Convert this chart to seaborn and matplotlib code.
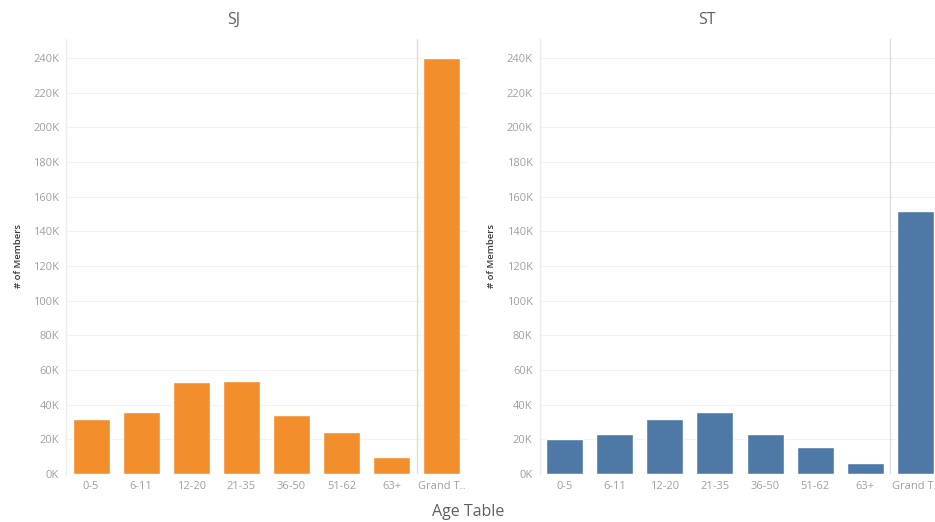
import matplotlib
matplotlib.use("Agg")
import matplotlib.pyplot as plt
import seaborn as sns
import pandas as pd
from matplotlib.ticker import FuncFormatter, MultipleLocator

sns.set_theme(style="white")
plt.rcParams['font.family'] = ['Open Sans', 'DejaVu Sans']

categories = ["0-5", "6-11", "12-20", "21-35", "36-50", "51-62", "63+", "Grand T.."]
sj_values = [31500, 35800, 53100, 53700, 33900, 24200, 10000, 239900]
st_values = [20000, 22900, 31500, 35800, 22900, 15800, 6200, 151900]
panels = ["SJ", "ST"]
colors = ["#F28E2B", "#4E79A7"]

fig = plt.figure(figsize=(9.35, 5.22), dpi=100)
W, H = 935, 522
positions = [(66, 467), (539.5, 940.5)]
y_base, y_top = 474, 39

for name, vals, col, (x0, x1) in zip(panels, [sj_values, st_values], colors, positions):
    ax = fig.add_axes([x0 / W, (H - y_base) / H, (x1 - x0) / W, (y_base - y_top) / H])
    df = pd.DataFrame({"Age": categories, "Members": vals})
    sns.barplot(data=df, x="Age", y="Members", color=col, saturation=1,
                width=0.74, ax=ax, zorder=3)
    ax.set_xlim(-0.5, len(categories) - 0.5)
    ax.set_ylim(0, 251000)
    ax.yaxis.set_major_locator(MultipleLocator(20000))
    ax.yaxis.set_major_formatter(FuncFormatter(lambda v, p: f"{int(round(v / 1000))}K"))
    ax.grid(axis="y", color="#f2f2f2", linewidth=0.8, zorder=0)
    ax.axvline(len(categories) - 1.5, color="#dcdcdc", linewidth=1.0, zorder=2)
    for s in ["top", "right", "bottom"]:
        ax.spines[s].set_visible(False)
    ax.spines["left"].set_color("#ececec")
    ax.spines["left"].set_linewidth(1.0)
    ax.tick_params(axis="both", length=0, labelsize=8, labelcolor="#a0a0a0", pad=5)
    ax.tick_params(axis="x", pad=5)
    ax.set_xlabel("")
    ax.set_ylabel("# of Members", fontsize=6.8, color="#3a3a3a", fontweight="semibold")
    ax.yaxis.set_label_coords(-0.108, 0.5)
    fig.text(((x0 - 66) + x1) / 2 / W, 1 - 20 / H, name, ha="center", va="center",
             fontsize=11.5, color="#606060")

fig.text(468 / W, 1 - 512 / H, "Age Table", ha="center", va="center",
         fontsize=11.5, color="#606060")

fig.savefig("out.png", dpi=100, facecolor="white")
